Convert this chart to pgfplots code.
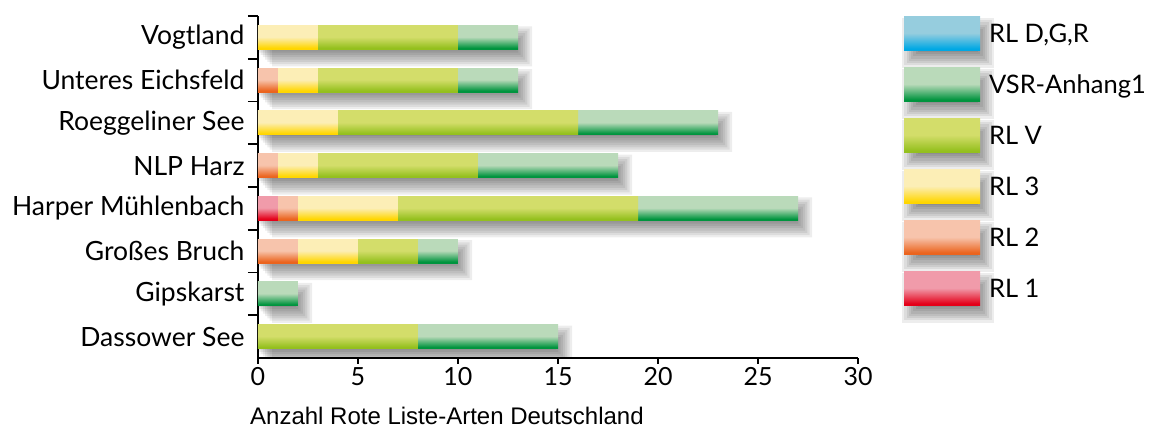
\documentclass[border=0pt]{standalone}
\usepackage{fontspec}
\setmainfont{Lato}
\newfontfamily\arialfont{Liberation Sans}
\usepackage{pgfplots}
\pgfplotsset{compat=1.18}
\usepackage{pgfplotstable}
\usetikzlibrary{calc}

\definecolor{rlOneL}{RGB}{240,155,170}
\definecolor{rlOneD}{RGB}{228,0,25}
\definecolor{rlTwoL}{RGB}{247,196,172}
\definecolor{rlTwoD}{RGB}{235,100,30}
\definecolor{rlThreeL}{RGB}{252,238,182}
\definecolor{rlThreeD}{RGB}{255,214,0}
\definecolor{rlVL}{RGB}{211,221,106}
\definecolor{rlVD}{RGB}{148,192,30}
\definecolor{vsrL}{RGB}{186,218,186}
\definecolor{vsrD}{RGB}{0,148,62}
\definecolor{dgrL}{RGB}{150,205,222}
\definecolor{dgrD}{RGB}{0,168,228}

\pgfdeclareverticalshading{shOne}{100bp}{color(0bp)=(rlOneD); color(28bp)=(rlOneD); color(51bp)=(rlOneL); color(100bp)=(rlOneL)}
\pgfdeclareverticalshading{shTwo}{100bp}{color(0bp)=(rlTwoD); color(28bp)=(rlTwoD); color(51bp)=(rlTwoL); color(100bp)=(rlTwoL)}
\pgfdeclareverticalshading{shThree}{100bp}{color(0bp)=(rlThreeD); color(28bp)=(rlThreeD); color(51bp)=(rlThreeL); color(100bp)=(rlThreeL)}
\pgfdeclareverticalshading{shV}{100bp}{color(0bp)=(rlVD); color(28bp)=(rlVD); color(51bp)=(rlVL); color(100bp)=(rlVL)}
\pgfdeclareverticalshading{shVSR}{100bp}{color(0bp)=(vsrD); color(28bp)=(vsrD); color(51bp)=(vsrL); color(100bp)=(vsrL)}
\pgfdeclareverticalshading{shDGR}{100bp}{color(0bp)=(dgrD); color(28bp)=(dgrD); color(51bp)=(dgrL); color(100bp)=(dgrL)}

\pgfdeclareplotmark{nothing}{}

% y: 0 Dassower See, 1 Gipskarst, 2 Grosses Bruch, 3 Harper Muehlenbach,
%    4 NLP Harz, 5 Roeggeliner See, 6 Unteres Eichsfeld, 7 Vogtland
\pgfplotstableread{
y rlone rltwo rlthree rlv vsr total
0 0 0 0 8 7 15
1 0 0 0 0 2 2
2 0 2 3 3 2 10
3 1 1 5 12 8 27
4 0 1 2 8 7 18
5 0 0 4 12 7 23
6 0 1 2 7 3 13
7 0 0 3 7 3 13
}\datatable

% one shaded segment, drawn at the end point of the stacked segment
\newcommand\segbar[1]{\ifdim\segw pt>0pt \path[draw=none, shade, shading=#1] ({-20pt*\segw},-12pt) rectangle (0pt,12pt);\fi}
\newcommand\legendbox[1]{%
  \begin{pgfinterruptboundingbox}%
  \foreach \r in {8,5.71,3.43,1.14,-1.14,-3.43,-5.71,-8}{%
    \fill[black, fill opacity=0.07, draw=none] ({6pt-(\r pt)},{-26pt-(\r pt)}) rectangle ({82pt+(\r pt)},{8pt+(\r pt)});}%
  \end{pgfinterruptboundingbox}%
  \path[draw=none, shade, shading=#1] (0pt,-17pt) rectangle (76pt,17pt);
  \path[draw=none] (0pt,0pt) -- (85pt,0pt);}

\pgfplotsset{
  segstyle/.style n args={2}{draw=none, fill=none, scatter, mark=nothing,
    visualization depends on={\thisrow{#1} \as \segw},
    scatter/@pre marker code/.code={\segbar{#2}},
    scatter/@post marker code/.code={},
    legend image code/.code={\legendbox{#2}}},
  shlayer/.style n args={2}{draw=none, fill=black, fill opacity=0.072, bar width=#1pt, bar shift=-9pt, xshift=#2pt},
}

\begin{document}
\begin{tikzpicture}
% soft shadows behind the bars (layered)
\begin{axis}[
  scale only axis, width=600pt, height=342pt,
  xmin=0, xmax=30, ymin=-0.5, ymax=7.5,
  hide axis, xbar,
]
\addplot[shlayer={40}{14}] table[x=total, y=y] {\datatable};
\addplot[shlayer={35.4}{11.7}] table[x=total, y=y] {\datatable};
\addplot[shlayer={30.9}{9.4}] table[x=total, y=y] {\datatable};
\addplot[shlayer={26.3}{7.1}] table[x=total, y=y] {\datatable};
\addplot[shlayer={21.7}{4.9}] table[x=total, y=y] {\datatable};
\addplot[shlayer={17.1}{2.6}] table[x=total, y=y] {\datatable};
\addplot[shlayer={12.6}{0.3}] table[x=total, y=y] {\datatable};
\addplot[shlayer={8}{-2}] table[x=total, y=y] {\datatable};
\end{axis}
% main axis
\begin{axis}[
  name=main,
  scale only axis, width=600pt, height=342pt,
  xmin=0, xmax=30, ymin=-0.5, ymax=7.5,
  xbar stacked, bar width=24pt,
  axis x line*=bottom, axis y line*=left,
  axis line style={line width=1.6pt, -},
  tick align=outside,
  xtick={0,5,...,30},
  ytick={0,...,7},
  yticklabels={Dassower See, Gipskarst, Großes Bruch, Harper Mühlenbach, NLP Harz, Roeggeliner See, Unteres Eichsfeld, Vogtland},
  minor ytick={0.5,1.5,...,7.5},
  major tick length=6pt, minor tick length=10pt,
  major x tick style={black, line width=1.6pt},
  major y tick style={draw=none},
  minor y tick style={black, line width=1.6pt},
  /pgf/number format/assume math mode=true,
  xticklabel style={font=\fontsize{25}{30}\selectfont},
  yticklabel style={font=\fontsize{26.5}{31}\selectfont, xshift=-4pt},
  xlabel={Anzahl Rote Liste-Arten Deutschland},
  xlabel style={font=\arialfont\fontsize{24}{28}\selectfont, inner sep=0pt, text depth=0pt,
    at={(rel axis cs:0,0)}, anchor=base west, xshift=-8pt, yshift=-67pt},
  legend style={at={(rel axis cs:1.0767,0.998)}, anchor=north west, draw=none, fill=none,
    inner sep=0pt, outer sep=0pt, row sep=17pt, font=\fontsize{25.5}{30}\selectfont,
    nodes={inner sep=0pt}},
  legend cell align=left,
  reverse legend,
]
\addplot[segstyle={rlone}{shOne}] table[x=rlone, y=y] {\datatable};
\addlegendentry{RL 1}
\addplot[segstyle={rltwo}{shTwo}] table[x=rltwo, y=y] {\datatable};
\addlegendentry{RL 2}
\addplot[segstyle={rlthree}{shThree}] table[x=rlthree, y=y] {\datatable};
\addlegendentry{RL 3}
\addplot[segstyle={rlv}{shV}] table[x=rlv, y=y] {\datatable};
\addlegendentry{RL V}
\addplot[segstyle={vsr}{shVSR}] table[x=vsr, y=y] {\datatable};
\addlegendentry{VSR-Anhang1}
\addlegendimage{draw=none, fill=none, legend image code/.code={\legendbox{shDGR}}}
\addlegendentry{RL D,G,R}
\end{axis}
\pgfresetboundingbox
\path ($(main.south west)+(-258pt,-72pt)$) rectangle ++(1151pt,430pt);
\end{tikzpicture}
\end{document}
